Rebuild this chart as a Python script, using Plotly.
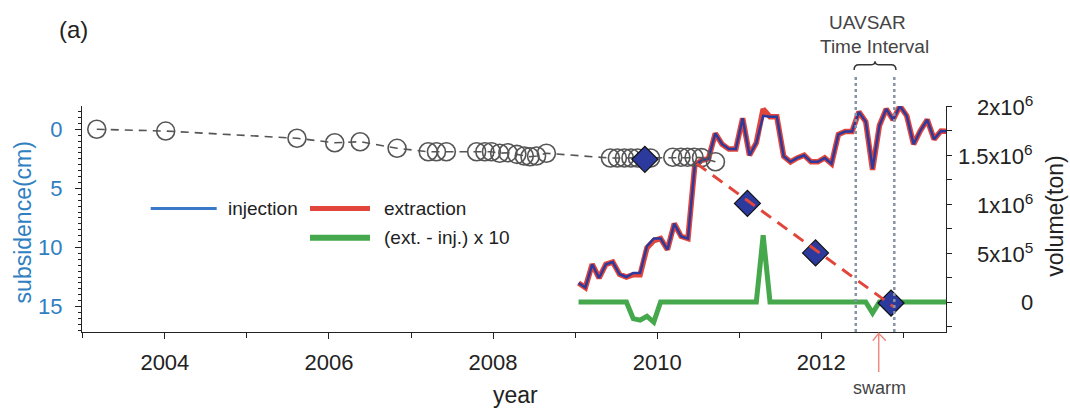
import plotly.graph_objects as go
import pandas as pd

# ---------------- data ----------------
# subsidence observations (open circles), year / cm
circ_year = [2003.17, 2004.01, 2005.61, 2006.07, 2006.38, 2006.83, 2007.21, 2007.31, 2007.43,
             2007.80, 2007.90, 2007.98, 2008.08, 2008.18, 2008.29, 2008.38, 2008.45, 2008.53, 2008.65,
             2009.43, 2009.515, 2009.60, 2009.68, 2009.76, 2009.92,
             2010.19, 2010.29, 2010.37, 2010.45, 2010.54, 2010.71]
circ_cm = [0.0, 0.15, 0.76, 1.14, 1.05, 1.61, 1.90, 1.90, 1.90,
           1.90, 1.90, 1.90, 2.03, 1.98, 2.12, 2.26, 2.32, 2.26, 2.03,
           2.43, 2.43, 2.43, 2.43, 2.43, 2.43,
           2.37, 2.37, 2.37, 2.37, 2.40, 2.75]

# UAVSAR-derived subsidence (diamonds)
dia_year = [2009.85, 2011.10, 2011.93, 2012.85]
dia_cm = [2.54, 6.27, 10.46, 14.7]

# red dashed trend
trend_year = [2010.48, 2012.88]
trend_cm = [2.9, 15.0]

# monthly volumes (ton), Jan 2009 .. Jul 2013
months = pd.date_range("2009-01-01", periods=55, freq="MS")
injection = [194e3, 147e3, 385e3, 245e3, 385e3, 408e3, 283e3, 255e3, 296e3, 296e3, 568e3, 647e3,
             647e3, 535e3, 800e3, 670e3, 647e3, 1395e3, 1446e3, 1463e3, 1720e3, 1610e3, 1560e3, 1560e3,
             1875e3, 1497e3, 1625e3, 1900e3, 1890e3, 1890e3, 1487e3, 1430e3, 1470e3, 1497e3, 1430e3, 1430e3,
             1470e3, 1410e3, 1710e3, 1740e3, 1740e3, 1940e3, 1840e3, 1360e3, 1800e3, 1970e3, 1860e3, 2000e3,
             1900e3, 1610e3, 1750e3, 1860e3, 1660e3, 1745e3, 1740e3]
extraction = [194e3, 147e3, 385e3, 245e3, 385e3, 408e3, 283e3, 255e3, 279e3, 277.5e3, 553.5e3, 626.5e3,
              647e3, 535e3, 800e3, 670e3, 647e3, 1395e3, 1446e3, 1463e3, 1720e3, 1610e3, 1560e3, 1560e3,
              1875e3, 1497e3, 1625e3, 1968e3, 1890e3, 1890e3, 1487e3, 1430e3, 1470e3, 1497e3, 1430e3, 1430e3,
              1470e3, 1410e3, 1710e3, 1740e3, 1740e3, 1940e3, 1840e3, 1348.8e3, 1800e3, 1970e3, 1860e3, 2000e3,
              1900e3, 1610e3, 1750e3, 1860e3, 1660e3, 1745e3, 1740e3]
diff_x10 = [0, 0, 0, 0, 0, 0, 0, 0, -170e3, -185e3, -145e3, -205e3,
            0, 0, 0, 0, 0, 0, 0, 0, 0, 0, 0, 0,
            0, 0, 0, 680e3, 0, 0, 0, 0, 0, 0, 0, 0,
            0, 0, 0, 0, 0, 0, 0, -112e3, 0, 0, 0, 0,
            0, 0, 0, 0, 0, 0, 0]

uavsar_interval = [2012.42, 2012.89]
swarm_year = 2012.70

x_ticks = [2004, 2006, 2008, 2010, 2012]
left_ticks = [0, 5, 10, 15]
right_tickvals = [0, 5e5, 1e6, 1.5e6, 2e6]
right_ticktext = ["0", "5x10<sup>5</sup>", "1x10<sup>6</sup>", "1.5x10<sup>6</sup>", "2x10<sup>6</sup>"]

# ---------------- figure ----------------
month_year = [m.year + (m.month - 0.5) / 12 for m in months]

FONT = "Liberation Sans, Arial, Helvetica, sans-serif"
BLUE_TXT = "#2f7fc1"
RED = "#e2453a"
DBLUE = "#2c3a9e"
GREEN = "#45a84c"

fig = go.Figure()
fig.add_trace(go.Scatter(x=month_year, y=extraction, mode="lines", yaxis="y",
                         line=dict(color=RED, width=5.5), showlegend=False))
fig.add_trace(go.Scatter(x=month_year, y=injection, mode="lines", yaxis="y",
                         line=dict(color=DBLUE, width=2.5), showlegend=False))
fig.add_trace(go.Scatter(x=month_year, y=diff_x10, mode="lines", yaxis="y",
                         line=dict(color=GREEN, width=5), showlegend=False))

fig.add_trace(go.Scatter(x=circ_year, y=circ_cm, mode="lines+markers", yaxis="y2",
                         line=dict(color="#555555", width=1.6, dash="8px,6px"),
                         marker=dict(symbol="circle-open", size=18, color="#555555",
                                     line=dict(width=1.6, color="#555555")),
                         showlegend=False))
fig.add_trace(go.Scatter(x=dia_year, y=dia_cm, mode="markers", yaxis="y2",
                         marker=dict(symbol="diamond", size=20, color=DBLUE,
                                     line=dict(width=1.2, color="#111111")),
                         showlegend=False))
fig.add_trace(go.Scatter(x=trend_year, y=trend_cm, mode="lines", yaxis="y2",
                         line=dict(color=RED, width=3, dash="12px,8px"), showlegend=False))

shapes = []
# UAVSAR interval dotted lines
for xv in uavsar_interval:
    shapes.append(dict(type="line", xref="x", yref="paper", x0=xv, x1=xv, y0=0, y1=1.128,
                       line=dict(color="#8893a3", width=2.5, dash="3px,3px"), layer="above"))
# curly brace
bx1, bx2 = uavsar_interval[0] - 0.02, uavsar_interval[1] + 0.02
bm = (bx1 + bx2) / 2
path = (f"M {bx1},1.159 Q {bx1},1.182 {bx1+0.06},1.182 L {bm-0.055},1.182 "
        f"Q {bm},1.182 {bm},1.198 Q {bm},1.182 {bm+0.055},1.182 L {bx2-0.06},1.182 "
        f"Q {bx2},1.182 {bx2},1.159")
shapes.append(dict(type="path", xref="x", yref="paper", path=path,
                   line=dict(color="#333333", width=1.5)))
# swarm arrow
shapes.append(dict(type="path", xref="x", yref="paper",
                   path=(f"M {swarm_year-0.072},-0.039 L {swarm_year},-0.006 L {swarm_year+0.087},-0.039 "
                         f"M {swarm_year},-0.006 L {swarm_year},-0.177"),
                   line=dict(color="#f08a80", width=1.5)))
# legend samples
shapes.append(dict(type="line", xref="paper", yref="paper", x0=0.0795, x1=0.1559, y0=0.5467, y1=0.5467,
                   line=dict(color="#3a78c8", width=3)))
shapes.append(dict(type="line", xref="paper", yref="paper", x0=0.2639, x1=0.3333, y0=0.5467, y1=0.5467,
                   line=dict(color=RED, width=5)))
shapes.append(dict(type="line", xref="paper", yref="paper", x0=0.2639, x1=0.3333, y0=0.4165, y1=0.4165,
                   line=dict(color=GREEN, width=6)))

ann = []
def txt(x, y, s, size, color="#222222", xanchor="center", angle=0, xref="paper", yref="paper"):
    ann.append(dict(x=x, y=y, xref=xref, yref=yref, text=s, showarrow=False, xanchor=xanchor,
                    yanchor="middle", textangle=angle, font=dict(family=FONT, size=size, color=color)))

txt(0.1663, 0.5467, "injection", 19, xanchor="left")
txt(0.3472, 0.5467, "extraction", 19, xanchor="left")
txt(0.3472, 0.4165, "(ext. - inj.) x 10", 19, xanchor="left")
txt(-0.0104, 1.3367, "(a)", 24)
txt(0.9097, 1.3677, "UAVSAR", 19, color="#444444")
txt(0.9167, 1.2614, "Time Interval", 19, color="#444444")
txt(0.9236, -0.2494, "swarm", 18, color="#444444")
txt(0.5023, -0.2805, "year", 23)
txt(-0.0689, 0.487, "subsidence(cm)", 23, color=BLUE_TXT, angle=-90)
txt(1.126, 0.5135, "volume(ton)", 23, angle=-90)
for v, s in zip(right_tickvals, right_ticktext):
    txt(1.103, v, s, 22, xanchor="right", yref="y")

fig.update_layout(
    width=1070, height=408,
    margin=dict(l=82, r=124, t=106, b=76.3, pad=0),
    paper_bgcolor="white", plot_bgcolor="white",
    font=dict(family=FONT, size=22, color="#222222"),
    showlegend=False,
    xaxis=dict(range=[2002.99, 2013.52], showgrid=False, zeroline=False,
               showline=True, linecolor="#222222", linewidth=1.3,
               ticks="outside", ticklen=6, tickwidth=1.3, tickcolor="#222222",
               tickmode="array", tickvals=x_ticks, ticktext=[str(t) for t in x_ticks],
               minor=dict(dtick=1, tick0=2003, ticks="outside", ticklen=5, tickcolor="#222222", tickwidth=1.2),
               tickfont=dict(size=22, color="#222222"), ticklabelstandoff=4),
    yaxis=dict(range=[-306000, 2000000], side="right", showgrid=False, zeroline=False,
               showline=True, linecolor="#222222", linewidth=1.3,
               ticks="outside", ticklen=5, tickwidth=1.2, tickcolor="#222222",
               tickmode="linear", tick0=0, dtick=5e5, showticklabels=False,
               minor=dict(dtick=2.5e5, tick0=0, ticks="outside", ticklen=5, tickcolor="#222222", tickwidth=1.2)),
    yaxis2=dict(range=[17.15, -1.97], side="left", overlaying="y", showgrid=False, zeroline=False,
                showline=True, linecolor="#222222", linewidth=1.3,
                ticks="outside", ticklen=6, tickwidth=1.3, tickcolor="#222222",
                tickmode="array", tickvals=left_ticks, ticktext=[str(t) for t in left_ticks],
                minor=dict(dtick=0.5, tick0=0, ticks="outside", ticklen=3, tickcolor="#222222", tickwidth=1),
                tickfont=dict(size=22, color=BLUE_TXT), ticklabelstandoff=8),
    shapes=shapes, annotations=ann,
)

fig.write_html("out.html")
